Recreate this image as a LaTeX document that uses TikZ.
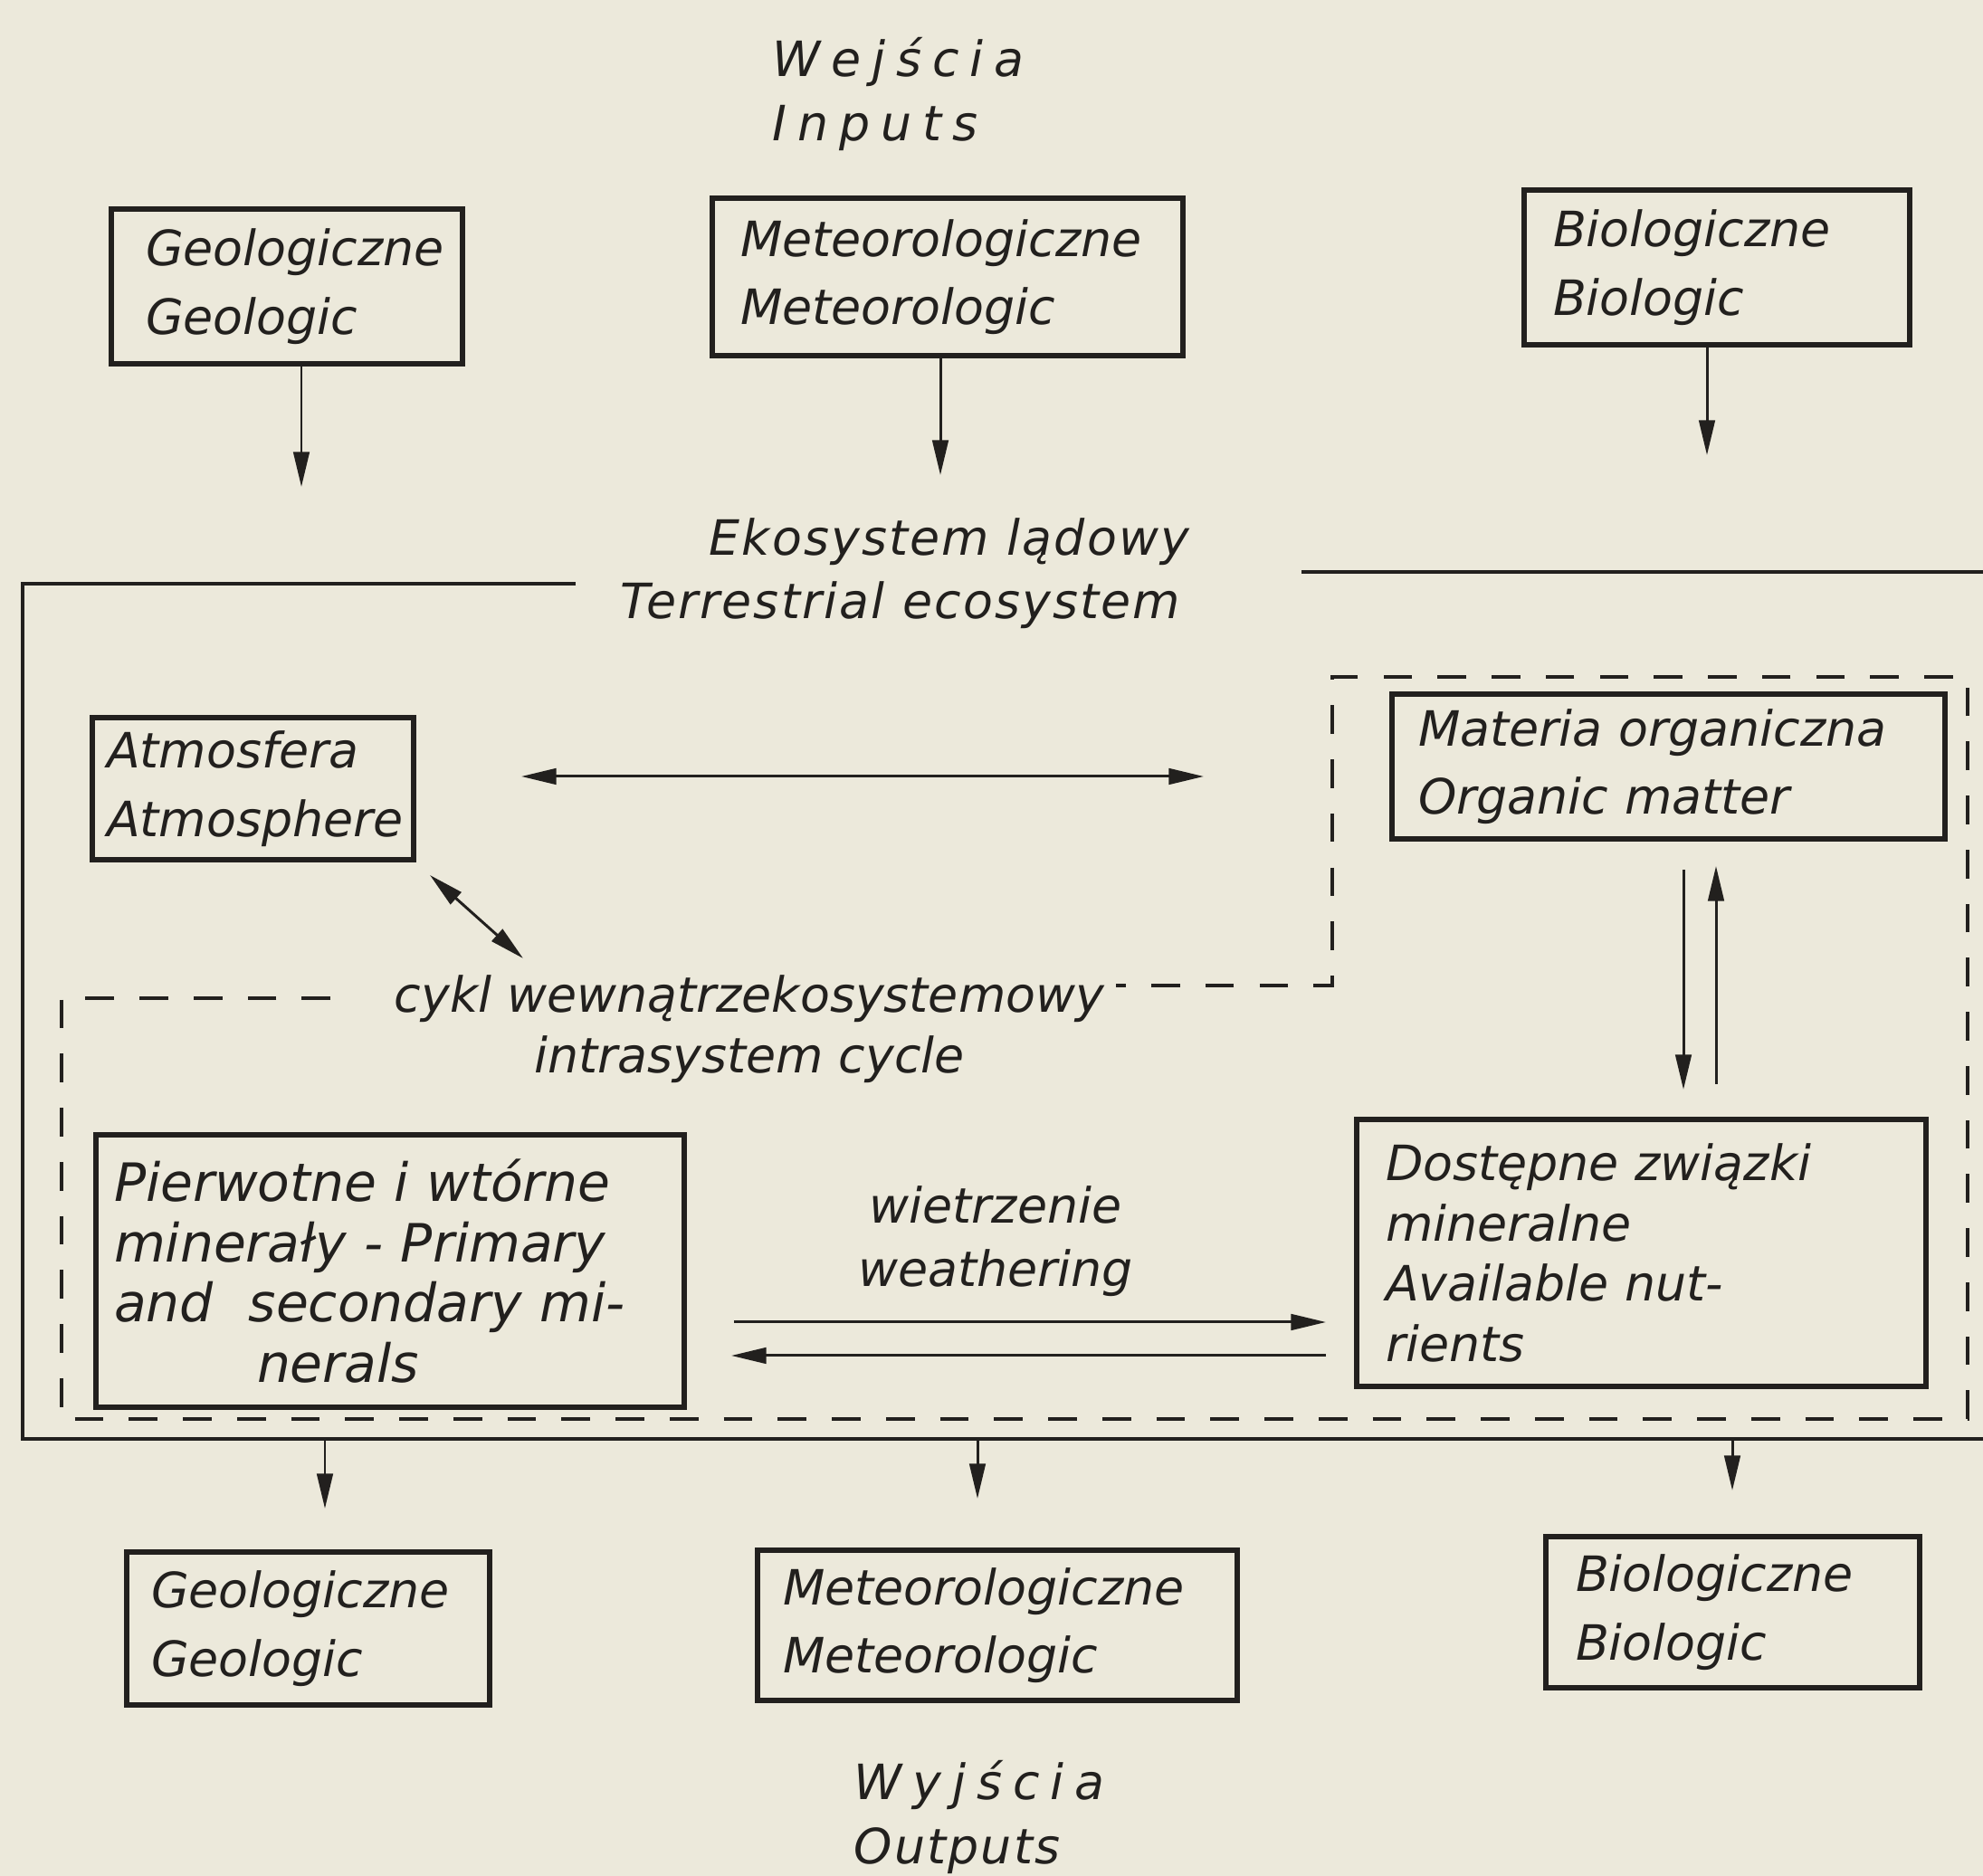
\documentclass[tikz,border=0pt]{standalone}
\usepackage{fontspec}
\setmainfont{DejaVu Sans}
\newfontfamily\spaced{DejaVu Sans}[LetterSpace=22]
\newfontfamily\wider{DejaVu Sans}[LetterSpace=4]
\usetikzlibrary{arrows.meta}
\definecolor{paper}{RGB}{236,233,219}
\definecolor{ink}{RGB}{34,32,30}
\hyphenpenalty=10000

\begin{document}
\begin{tikzpicture}[scale=1,
	lbl/.style={font=\fontsize{15.3}{20}\selectfont\itshape, text=ink, inner sep=0pt},
	box/.style={font=\fontsize{15.3}{21.5}\selectfont\itshape, text=ink, draw=ink, line width=1.7pt, align=left, inner ysep=0pt},
	tallbox/.style={box, font=\fontsize{15.3}{19}\selectfont\itshape},
	arr/.style={draw=ink, line width=0.85pt, -{Triangle[length=11pt,width=5pt]}},
	dblarr/.style={draw=ink, line width=0.85pt, {Triangle[length=11pt,width=5pt]}-{Triangle[length=11pt,width=5pt]}},
	ecoframe/.style={draw=ink, line width=1.1pt},
	cycleline/.style={draw=ink, line width=1pt, dash pattern=on 9pt off 8pt}]

	%Paper
	\fill[paper] (0,0) rectangle (21.91,20.73);
	\useasboundingbox (0,0) rectangle (21.91,20.73);

	%Inputs
	\node[lbl, align=left, anchor=west] (inLbl) at (8.53,19.69) {\spaced Wejścia\\\spaced Inputs};
	\node[box, text width=3.12cm, inner xsep=0.38cm, minimum height=1.71cm] (geoIn) at (3.17,17.565) {Geologiczne\\Geologic};
	\node[box, text width=4.58cm, inner xsep=0.31cm, minimum height=1.74cm] (metIn) at (10.47,17.67) {Meteorologiczne\\Meteorologic};
	\node[box, text width=3.62cm, inner xsep=0.32cm, minimum height=1.71cm] (bioIn) at (18.97,17.775) {Biologiczne\\Biologic};

	\coordinate (geoInEnd) at (3.33,15.35);
	\coordinate (metInEnd) at (10.39,15.48);
	\coordinate (bioInEnd) at (18.86,15.70);
	\draw[arr] (geoIn.south -| geoInEnd) -- (geoInEnd);
	\draw[arr] (metIn.south -| metInEnd) -- (metInEnd);
	\draw[arr] (bioIn.south -| bioInEnd) -- (bioInEnd);

	%Terrestrial ecosystem
	\node[lbl, align=left, anchor=west] (ecoLbl) at (6.85,14.395) {\hspace*{0.98cm}\wider Ekosystem lądowy\\\wider Terrestrial ecosystem};
	\draw[ecoframe] (6.36,14.28) -- (0.25,14.28) -- (0.25,4.83) -- (21.91,4.83);
	\draw[ecoframe] (14.38,14.41) -- (21.91,14.41);

	%Intrasystem cycle
	\node[lbl, align=center, font=\fontsize{15.3}{19}\selectfont\itshape] (cycLbl) at (8.28,9.36) {cykl wewnątrzekosystemowy\\intrasystem cycle};
	\draw[cycleline] (3.65,9.70) -- (0.68,9.70) -- (0.68,5.05) -- (21.74,5.05) -- (21.74,13.25) -- (14.72,13.25) -- (14.72,9.84) -- (12.33,9.84);

	%Atmosphere and organic matter
	\node[box, text width=3.23cm, inner xsep=0.16cm, minimum height=1.57cm] (atm) at (2.795,12.015) {Atmosfera\\Atmosphere};
	\node[box, text width=5.53cm, inner xsep=0.29cm, minimum height=1.60cm] (org) at (18.435,12.26) {Materia organiczna\\Organic matter};

	\coordinate (hL) at (5.76,12.15);
	\coordinate (hR) at (13.30,12.15);
	\draw[dblarr] (hL) -- (hR);
	\coordinate (dA) at (4.75,11.06);
	\coordinate (dB) at (5.78,10.14);
	\draw[dblarr] (dA) -- (dB);

	%Minerals and nutrients
	\node[tallbox, font=\fontsize{16.6}{19}\selectfont\itshape, text width=6.10cm, inner xsep=0.20cm, minimum height=3.01cm] (prim) at (4.31,6.685) {Pierwotne i wtórne\\minerały - Primary\\and~~secondary mi-\\\hspace*{1.58cm}nerals};
	\node[tallbox, text width=5.65cm, inner xsep=0.32cm, minimum height=2.95cm] (avail) at (18.135,6.885) {Dostępne związki\\mineralne\\Available nut-\\rients};

	\coordinate (dnX) at (18.60,0);
	\coordinate (upX) at (18.96,0);
	\draw[arr, shorten <=0.31cm, shorten >=0.30cm] (org.south -| dnX) -- (avail.north -| dnX);
	\draw[arr, shorten <=0.36cm, shorten >=0.27cm] (avail.north -| upX) -- (org.south -| upX);

	\node[lbl, align=center] (weathLbl) at (11.0,7.015) {wietrzenie\\weathering};
	\coordinate (wTop) at (0,6.12);
	\coordinate (wBot) at (0,5.75);
	\draw[arr, shorten <=0.52cm, shorten >=0.31cm] (prim.east |- wTop) -- (avail.west |- wTop);
	\draw[arr, shorten <=0.31cm, shorten >=0.49cm] (avail.west |- wBot) -- (prim.east |- wBot);

	%Outputs
	\node[box, text width=3.47cm, inner xsep=0.27cm, minimum height=1.69cm] (geoOut) at (3.405,2.735) {Geologiczne\\Geologic};
	\node[box, text width=4.74cm, inner xsep=0.28cm, minimum height=1.66cm] (metOut) at (11.02,2.77) {Meteorologiczne\\Meteorologic};
	\node[box, text width=3.47cm, inner xsep=0.33cm, minimum height=1.67cm] (bioOut) at (19.145,2.915) {Biologiczne\\Biologic};

	\coordinate (geoOutSrc) at (3.59,4.83);
	\coordinate (metOutSrc) at (10.80,4.83);
	\coordinate (bioOutSrc) at (19.14,4.83);
	\draw[arr, shorten >=0.45cm] (geoOutSrc) -- (geoOut.north -| geoOutSrc);
	\draw[arr, shorten >=0.54cm] (metOutSrc) -- (metOut.north -| metOutSrc);
	\draw[arr, shorten >=0.48cm] (bioOutSrc) -- (bioOut.north -| bioOutSrc);

	\node[lbl, align=left, anchor=west] (outLbl) at (9.43,0.65) {\spaced Wyjścia\\\wider Outputs};

\end{tikzpicture}
\end{document}
